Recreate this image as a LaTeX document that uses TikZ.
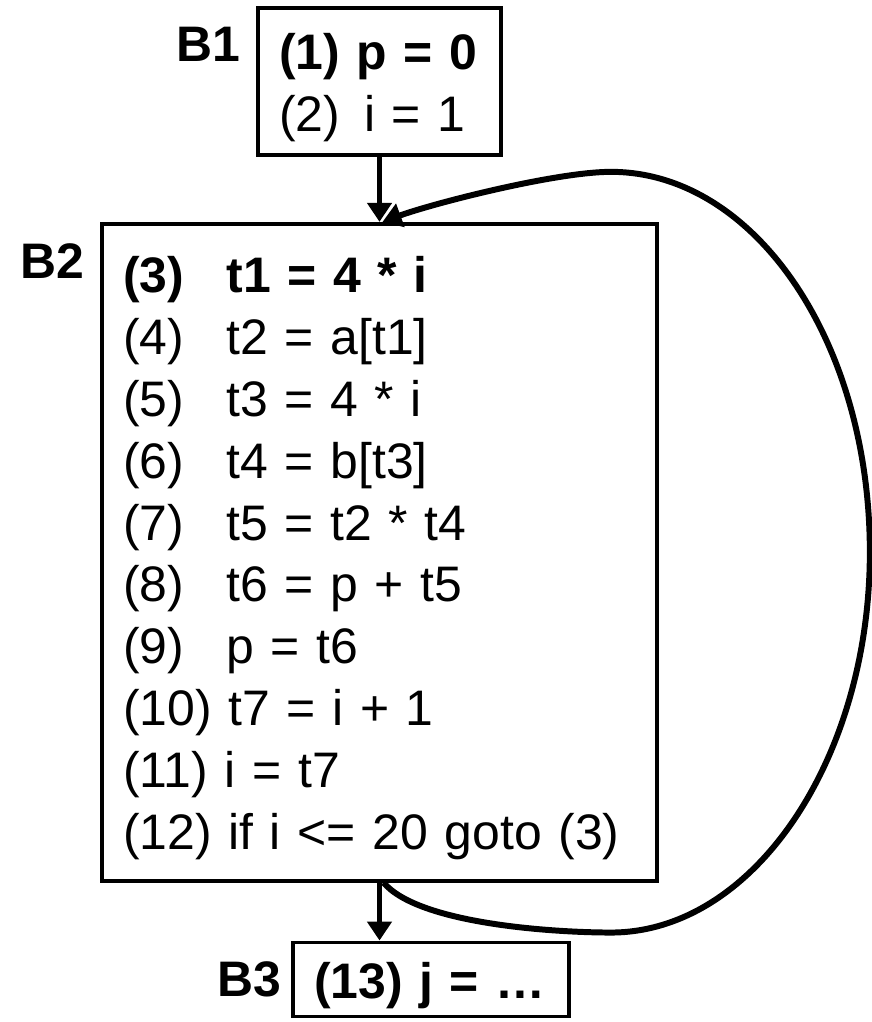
\documentclass[tikz,border=0pt]{standalone}
\usepackage{fontspec}
\setmainfont{Liberation Sans}
\usetikzlibrary{arrows.meta,positioning}
\tikzset{
  block/.style={
    draw,
    line width=2.1pt,
    align=left,
    inner xsep=0.42cm,
    inner ysep=0pt,
    font=\fontsize{28.4pt}{35.2pt}\selectfont,
    execute at begin node={\rule{0pt}{0.96cm}}
  },
  tag/.style={
    inner sep=0pt,
    font=\fontsize{28.4pt}{35.2pt}\selectfont\bfseries
  },
  flow/.style={
    -{Triangle[length=0.38cm,width=0.48cm]},
    line width=3.4pt
  }
}
\newcommand{\stmt}[2]{\makebox[2.07cm][l]{#1}#2}

\begin{document}
\begin{tikzpicture}[node distance=1.3cm]
  \useasboundingbox (0,0) rectangle (17.44,-20.44);

  \node[block, text width=4.02cm, minimum height=2.94cm] (b1) at (7.59,-1.63) {\textbf{(1) p = 0}\\(2)\hspace{0.15em} i = 1};
  \node[block, text width=10.26cm, minimum height=13.14cm, below=of b1] (b2) {\textbf{\stmt{(3)}{t1 = 4 * i}}\\
    \stmt{(4)}{t2 = a[t1]}\\
    \stmt{(5)}{t3 = 4 * i}\\
    \stmt{(6)}{t4 = b[t3]}\\
    \stmt{(7)}{t5 = t2 * t4}\\
    \stmt{(8)}{t6 = p + t5}\\
    \stmt{(9)}{p = t6}\\
    (10) t7 = i + 1\\
    (11) i = t7\\
    (12) if i <= 20 goto (3)};
  \node[block, text width=4.68cm, minimum height=1.48cm, below=1.16cm of b2, xshift=1.03cm] (b3) {\textbf{(13) j = …}};

  \node[tag, left=0.32cm of b1.north west, anchor=north east, yshift=-0.42cm] (b1tag) {B1};
  \node[tag, left=0.32cm of b2.north west, anchor=north east, yshift=-0.42cm] (b2tag) {B2};
  \node[tag, left=0.2cm of b3.north west, anchor=north east, yshift=-0.42cm] (b3tag) {B3};

  % back edge of the loop
  \coordinate[below right=1.0cm and 4.63cm of b2.south] (loopB);
  \coordinate[right=4.22cm of b2.east] (loopR);
  \coordinate[above right=1.0cm and 4.63cm of b2.north] (loopT);

  \draw[flow] (b1) -- (b2);
  \draw[flow] (b2.south) -- (b2.south |- b3.north);
  \draw[flow] ([xshift=0.08cm]b2.south) to[out=-50, in=180, looseness=0.6] (loopB)
    to[out=0, in=-90, out distance=2.85cm, in distance=4.14cm] (loopR)
    to[out=90, in=0, out distance=4.25cm, in distance=2.85cm] (loopT)
    to[out=180, in=20, looseness=0.6] ([xshift=0.06cm]b2.north);
\end{tikzpicture}
\end{document}
